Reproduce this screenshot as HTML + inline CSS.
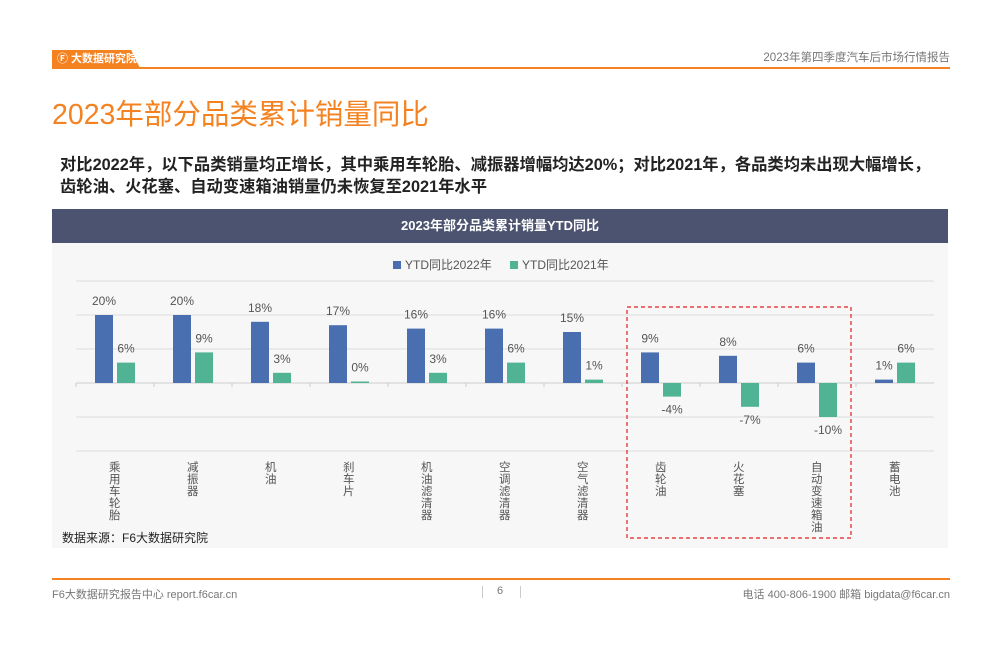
<!DOCTYPE html>
<html><head><meta charset="utf-8"><style>
body{margin:0;width:1000px;height:650px;background:#fff;font-family:"Liberation Sans","Noto Sans CJK SC",sans-serif;position:relative;overflow:hidden}
.a{position:absolute}
</style></head><body>
<div class="a" style="left:52px;top:50px;width:88px;height:18px;background:#f58220;clip-path:polygon(0 0,90% 0,100% 100%,0 100%)"></div>
<div class="a" style="left:57px;top:51px;color:#fff;font-size:11px;font-weight:bold;line-height:17px">Ⓕ 大数据研究院</div>
<div class="a" style="left:52px;top:67px;width:898px;height:2px;background:#f58220"></div>
<div class="a" style="right:50px;top:49px;color:#777;font-size:11.5px">2023年第四季度汽车后市场行情报告</div>
<div class="a" style="left:52px;top:93px;color:#f58220;font-size:28.5px;line-height:44px">2023年部分品类累计销量同比</div>
<div class="a" style="left:60px;top:154px;color:#222;font-size:16.3px;font-weight:bold;line-height:22px;white-space:nowrap">对比2022年，以下品类销量均正增长，其中乘用车轮胎、减振器增幅均达20%；对比2021年，各品类均未出现大幅增长，<br>齿轮油、火花塞、自动变速箱油销量仍未恢复至2021年水平</div>
<div class="a" style="left:52px;top:209px;width:896px;height:34px;background:#4b5370;color:#fff;font-size:13px;font-weight:bold;text-align:center;line-height:34px">2023年部分品类累计销量YTD同比</div>
<div class="a" style="left:52px;top:243px;width:896px;height:305px;background:#f7f7f7"></div>
<svg class="a" style="left:0;top:0" width="1000" height="650" font-family="Liberation Sans, Noto Sans CJK SC, sans-serif">
<g stroke="#ddd" stroke-width="1">
<line x1="76" x2="934" y1="281" y2="281"/><line x1="76" x2="934" y1="315" y2="315"/><line x1="76" x2="934" y1="349" y2="349"/><line x1="76" x2="934" y1="417" y2="417"/><line x1="76" x2="934" y1="451" y2="451"/>
<line x1="76" x2="934" y1="383" y2="383" stroke="#ccc"/>
</g>
<rect x="393" y="261" width="8" height="8" fill="#4a6fb0"/><text x="405" y="269" font-size="12" fill="#555">YTD同比2022年</text>
<rect x="510" y="261" width="8" height="8" fill="#4fb394"/><text x="522" y="269" font-size="12" fill="#555">YTD同比2021年</text>
<g id="bars" font-size="12" fill="#555" text-anchor="middle"></g>
<rect x="627" y="307" width="224" height="231" fill="none" stroke="#e02020" stroke-dasharray="4,3" stroke-width="1.2"/>
</svg>
<div id="labs"></div>
<div class="a" style="left:62px;top:529px;font-size:12px;color:#222">数据来源：F6大数据研究院</div>
<div class="a" style="left:52px;top:578px;width:898px;height:2px;background:#f58220"></div>
<div class="a" style="left:52px;top:586px;font-size:11px;color:#777">F6大数据研究报告中心 report.f6car.cn</div>
<div class="a" style="left:482px;top:586px;width:1px;height:12px;background:#ccc"></div>
<div class="a" style="left:520px;top:586px;width:1px;height:12px;background:#ccc"></div>
<div class="a" style="left:497px;top:585px;font-size:11px;color:#777">6</div>
<div class="a" style="right:50px;top:586px;font-size:11px;color:#777">电话 400-806-1900 邮箱 bigdata@f6car.cn</div>
<script>
var b=[20,20,18,17,16,16,15,9,8,6,1],g=[6,9,3,0,3,6,1,-4,-7,-10,6];
var n=["乘用车轮胎","减振器","机油","刹车片","机油滤清器","空调滤清器","空气滤清器","齿轮油","火花塞","自动变速箱油","蓄电池"];
var s="",h="";
for(var i=0;i<11;i++){var c=115+78*i,z=383,k=3.4;
var bh=b[i]*k;s+='<rect x="'+(c-20)+'" y="'+(z-bh)+'" width="18" height="'+bh+'" fill="#4a6fb0"/>';
s+='<text x="'+(c-11)+'" y="'+(z-bh-10)+'">'+b[i]+'%</text>';
var gh=Math.max(Math.abs(g[i])*k,1.5);
if(g[i]>=0){s+='<rect x="'+(c+2)+'" y="'+(z-gh)+'" width="18" height="'+gh+'" fill="#4fb394"/>';s+='<text x="'+(c+11)+'" y="'+(z-gh-10)+'">'+g[i]+'%</text>';}
else{s+='<rect x="'+(c+2)+'" y="'+z+'" width="18" height="'+gh+'" fill="#4fb394"/>';s+='<text x="'+(c+11)+'" y="'+(z+gh+17)+'">'+g[i]+'%</text>';}
s+='<line x1="'+(76+78*i)+'" x2="'+(76+78*i)+'" y1="383" y2="387" stroke="#ccc"/>';
h+='<div class="a" style="left:'+(c-6)+'px;top:462px;width:12px;font-size:11.5px;line-height:12px;color:#555;word-break:break-all">'+n[i]+'</div>';}
document.getElementById("bars").innerHTML=s;document.getElementById("labs").innerHTML=h;
</script>
</body></html>
